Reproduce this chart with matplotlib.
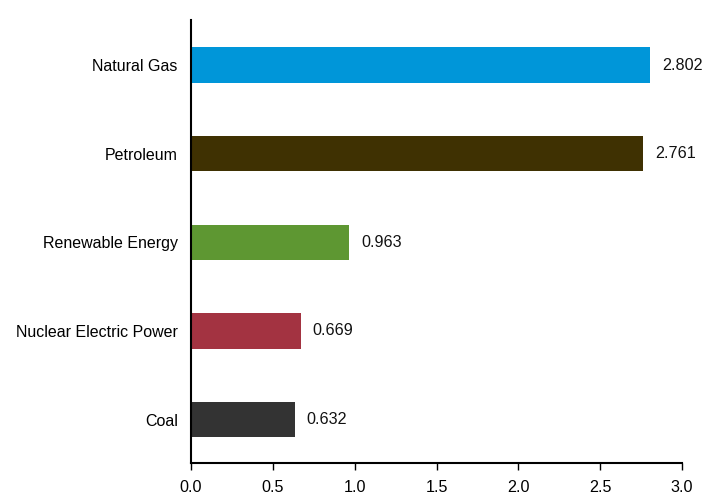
import matplotlib
matplotlib.use("Agg")
import matplotlib.pyplot as plt

categories = ["Coal", "Nuclear Electric Power", "Renewable Energy", "Petroleum", "Natural Gas"]
values = [0.632, 0.669, 0.963, 2.761, 2.802]
colors = ["#333333", "#A33341", "#5E9732", "#3F3102", "#0096D9"]
xticks = [0.0, 0.5, 1.0, 1.5, 2.0, 2.5, 3.0]

plt.rcParams['font.family'] = ['Liberation Sans', 'DejaVu Sans']

fig = plt.figure(figsize=(7.21, 4.98), dpi=100)
ax = fig.add_axes([0.265, 0.0703, 0.681, 0.8897])
ypos = list(range(len(categories)))
ax.barh(ypos, values, height=0.4, color=colors)
for y, v in zip(ypos, values):
    ax.text(v + 0.075, y, f"{v:.3f}", va="center", ha="left", fontsize=11.6, color="#111111")
ax.set_yticks(ypos)
ax.set_yticklabels(categories, fontsize=11.5)
ax.set_xticks(xticks)
ax.set_xticklabels([f"{t:.1f}" for t in xticks], fontsize=11.6)
ax.set_xlim(0, 3.0)
ax.set_ylim(-0.49, 4.51)
for s in ["top", "right"]:
    ax.spines[s].set_visible(False)
ax.spines["left"].set_linewidth(1.5)
ax.spines["bottom"].set_linewidth(1.5)
ax.tick_params(axis="y", length=0, pad=9.5)
ax.tick_params(axis="x", length=5, width=1, pad=7)
fig.savefig("out.png", dpi=100)
